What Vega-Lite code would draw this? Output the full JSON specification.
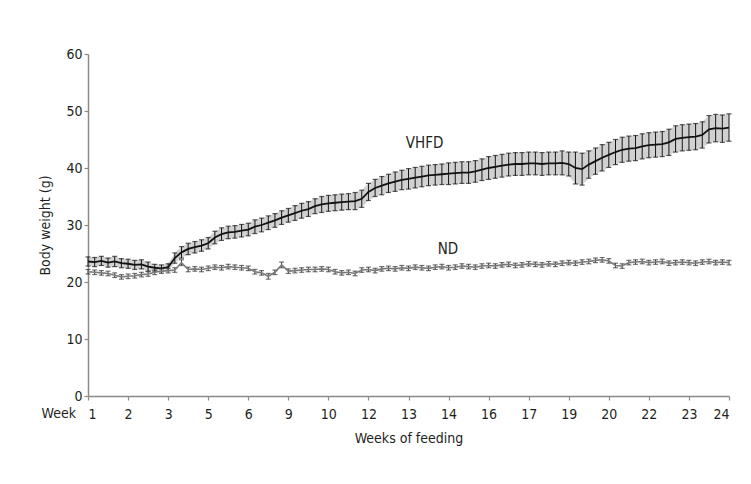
{
  "$schema": "https://vega.github.io/schema/vega-lite/v6.json",
  "width": 641,
  "height": 342,
  "autosize": "none",
  "padding": {"left": 88, "top": 54, "right": 22, "bottom": 88},
  "background": "white",
  "config": {
    "view": {"stroke": null},
    "font": "DejaVu Sans Condensed",
    "axis": {
      "grid": false,
      "domainColor": "#8a8a8a",
      "domainWidth": 1.5,
      "tickColor": "#8a8a8a",
      "tickWidth": 1.2,
      "tickSize": 4,
      "labelFont": "DejaVu Sans Condensed",
      "labelFontSize": 14,
      "labelColor": "#231f20",
      "titleFont": "DejaVu Sans Condensed",
      "titleFontSize": 14,
      "titleFontWeight": "normal",
      "titleColor": "#231f20"
    }
  },
  "data": {
    "values": [
      {"i":0,"v":23.6,"ve":0.8,"n":21.8,"ne":0.4},
      {"i":1,"v":23.5,"ve":0.8,"n":21.7,"ne":0.4},
      {"i":2,"v":23.7,"ve":0.8,"n":21.6,"ne":0.4},
      {"i":3,"v":23.4,"ve":0.8,"n":21.5,"ne":0.4},
      {"i":4,"v":23.6,"ve":0.9,"n":21.2,"ne":0.4},
      {"i":5,"v":23.3,"ve":0.8,"n":20.9,"ne":0.4},
      {"i":6,"v":23.2,"ve":0.8,"n":21.0,"ne":0.4},
      {"i":7,"v":23.0,"ve":0.8,"n":21.1,"ne":0.4},
      {"i":8,"v":23.1,"ve":0.8,"n":21.3,"ne":0.4},
      {"i":9,"v":22.7,"ve":0.8,"n":21.4,"ne":0.4},
      {"i":10,"v":22.5,"ve":0.6,"n":21.7,"ne":0.4},
      {"i":11,"v":22.4,"ve":0.6,"n":21.9,"ne":0.4},
      {"i":12,"v":22.6,"ve":0.6,"n":22.0,"ne":0.4},
      {"i":13,"v":24.2,"ve":0.9,"n":22.1,"ne":0.4},
      {"i":14,"v":25.2,"ve":1.0,"n":23.4,"ne":0.5},
      {"i":15,"v":25.8,"ve":1.0,"n":22.2,"ne":0.4},
      {"i":16,"v":26.1,"ve":1.0,"n":22.3,"ne":0.4},
      {"i":17,"v":26.4,"ve":1.0,"n":22.2,"ne":0.4},
      {"i":18,"v":26.8,"ve":1.0,"n":22.4,"ne":0.4},
      {"i":19,"v":27.8,"ve":1.1,"n":22.6,"ne":0.4},
      {"i":20,"v":28.4,"ve":1.1,"n":22.5,"ne":0.4},
      {"i":21,"v":28.7,"ve":1.1,"n":22.7,"ne":0.4},
      {"i":22,"v":28.8,"ve":1.1,"n":22.6,"ne":0.4},
      {"i":23,"v":29.0,"ve":1.1,"n":22.5,"ne":0.4},
      {"i":24,"v":29.2,"ve":1.1,"n":22.4,"ne":0.4},
      {"i":25,"v":29.7,"ve":1.2,"n":21.8,"ne":0.4},
      {"i":26,"v":30.0,"ve":1.2,"n":21.6,"ne":0.4},
      {"i":27,"v":30.4,"ve":1.2,"n":21.0,"ne":0.5},
      {"i":28,"v":30.8,"ve":1.2,"n":21.7,"ne":0.4},
      {"i":29,"v":31.3,"ve":1.2,"n":23.0,"ne":0.5},
      {"i":30,"v":31.7,"ve":1.2,"n":21.9,"ne":0.4},
      {"i":31,"v":32.1,"ve":1.3,"n":22.0,"ne":0.4},
      {"i":32,"v":32.5,"ve":1.3,"n":22.1,"ne":0.4},
      {"i":33,"v":32.8,"ve":1.3,"n":22.2,"ne":0.4},
      {"i":34,"v":33.3,"ve":1.3,"n":22.2,"ne":0.4},
      {"i":35,"v":33.6,"ve":1.4,"n":22.3,"ne":0.4},
      {"i":36,"v":33.8,"ve":1.4,"n":22.2,"ne":0.4},
      {"i":37,"v":33.9,"ve":1.4,"n":21.8,"ne":0.4},
      {"i":38,"v":34.0,"ve":1.4,"n":21.6,"ne":0.4},
      {"i":39,"v":34.1,"ve":1.4,"n":21.7,"ne":0.4},
      {"i":40,"v":34.2,"ve":1.5,"n":21.5,"ne":0.4},
      {"i":41,"v":34.6,"ve":1.5,"n":22.1,"ne":0.4},
      {"i":42,"v":35.8,"ve":1.5,"n":22.2,"ne":0.4},
      {"i":43,"v":36.5,"ve":1.5,"n":22.0,"ne":0.4},
      {"i":44,"v":36.9,"ve":1.6,"n":22.3,"ne":0.4},
      {"i":45,"v":37.3,"ve":1.6,"n":22.4,"ne":0.4},
      {"i":46,"v":37.6,"ve":1.7,"n":22.3,"ne":0.4},
      {"i":47,"v":37.9,"ve":1.7,"n":22.5,"ne":0.4},
      {"i":48,"v":38.1,"ve":1.8,"n":22.4,"ne":0.4},
      {"i":49,"v":38.3,"ve":1.8,"n":22.6,"ne":0.4},
      {"i":50,"v":38.5,"ve":1.8,"n":22.5,"ne":0.4},
      {"i":51,"v":38.7,"ve":1.8,"n":22.4,"ne":0.4},
      {"i":52,"v":38.8,"ve":1.8,"n":22.6,"ne":0.4},
      {"i":53,"v":38.9,"ve":1.8,"n":22.7,"ne":0.4},
      {"i":54,"v":39.0,"ve":1.9,"n":22.5,"ne":0.4},
      {"i":55,"v":39.1,"ve":1.9,"n":22.6,"ne":0.4},
      {"i":56,"v":39.2,"ve":1.9,"n":22.8,"ne":0.4},
      {"i":57,"v":39.2,"ve":1.9,"n":22.7,"ne":0.4},
      {"i":58,"v":39.4,"ve":1.9,"n":22.6,"ne":0.4},
      {"i":59,"v":39.7,"ve":1.9,"n":22.8,"ne":0.4},
      {"i":60,"v":40.0,"ve":2.0,"n":22.9,"ne":0.4},
      {"i":61,"v":40.2,"ve":2.0,"n":22.8,"ne":0.4},
      {"i":62,"v":40.4,"ve":2.0,"n":23.0,"ne":0.4},
      {"i":63,"v":40.6,"ve":2.0,"n":23.1,"ne":0.4},
      {"i":64,"v":40.7,"ve":2.0,"n":22.9,"ne":0.4},
      {"i":65,"v":40.7,"ve":2.0,"n":23.0,"ne":0.4},
      {"i":66,"v":40.8,"ve":2.0,"n":23.2,"ne":0.4},
      {"i":67,"v":40.8,"ve":2.0,"n":23.1,"ne":0.4},
      {"i":68,"v":40.7,"ve":2.0,"n":23.0,"ne":0.4},
      {"i":69,"v":40.8,"ve":2.0,"n":23.2,"ne":0.4},
      {"i":70,"v":40.8,"ve":2.0,"n":23.1,"ne":0.4},
      {"i":71,"v":40.9,"ve":2.1,"n":23.3,"ne":0.4},
      {"i":72,"v":40.7,"ve":2.1,"n":23.4,"ne":0.4},
      {"i":73,"v":40.0,"ve":2.8,"n":23.3,"ne":0.4},
      {"i":74,"v":39.8,"ve":2.8,"n":23.5,"ne":0.4},
      {"i":75,"v":40.6,"ve":2.4,"n":23.6,"ne":0.4},
      {"i":76,"v":41.2,"ve":2.3,"n":23.8,"ne":0.4},
      {"i":77,"v":41.8,"ve":2.3,"n":23.9,"ne":0.4},
      {"i":78,"v":42.3,"ve":2.2,"n":23.7,"ne":0.4},
      {"i":79,"v":42.8,"ve":2.2,"n":22.9,"ne":0.4},
      {"i":80,"v":43.2,"ve":2.2,"n":22.8,"ne":0.4},
      {"i":81,"v":43.4,"ve":2.2,"n":23.4,"ne":0.4},
      {"i":82,"v":43.5,"ve":2.2,"n":23.5,"ne":0.4},
      {"i":83,"v":43.8,"ve":2.2,"n":23.6,"ne":0.4},
      {"i":84,"v":44.0,"ve":2.2,"n":23.4,"ne":0.4},
      {"i":85,"v":44.1,"ve":2.2,"n":23.5,"ne":0.4},
      {"i":86,"v":44.2,"ve":2.2,"n":23.6,"ne":0.4},
      {"i":87,"v":44.5,"ve":2.3,"n":23.3,"ne":0.4},
      {"i":88,"v":45.1,"ve":2.3,"n":23.4,"ne":0.4},
      {"i":89,"v":45.3,"ve":2.3,"n":23.5,"ne":0.4},
      {"i":90,"v":45.4,"ve":2.3,"n":23.4,"ne":0.4},
      {"i":91,"v":45.5,"ve":2.3,"n":23.3,"ne":0.4},
      {"i":92,"v":45.8,"ve":2.3,"n":23.5,"ne":0.4},
      {"i":93,"v":46.8,"ve":2.4,"n":23.6,"ne":0.4},
      {"i":94,"v":47.0,"ve":2.4,"n":23.4,"ne":0.4},
      {"i":95,"v":46.9,"ve":2.4,"n":23.5,"ne":0.4},
      {"i":96,"v":47.1,"ve":2.4,"n":23.4,"ne":0.4}
    ]
  },
  "encoding": {
    "x": {
      "field": "i",
      "type": "quantitative",
      "title": "Weeks of feeding",
      "scale": {"domain": [0, 96], "nice": false, "zero": false},
      "axis": {
        "values": [0, 6, 12, 18, 24, 30, 36, 42, 48, 54, 60, 66, 72, 78, 84, 90, 96],
        "labelExpr": "['1','2','3','5','6','9','10','12','13','14','16','17','19','20','22','23','24'][round(datum.value/6)]",
        "labelPadding": 7,
        "titlePadding": 10
      }
    }
  },
  "layer": [
    {
      "mark": {"type": "errorband", "color": "#9a9a9a", "opacity": 0.45},
      "encoding": {
        "y": {
          "field": "v",
          "type": "quantitative",
          "title": "Body weight (g)",
          "scale": {"domain": [0, 60], "nice": false},
          "axis": {
            "values": [0, 10, 20, 30, 40, 50, 60],
            "labelPadding": 2,
            "titlePadding": 13
          }
        },
        "yError": {"field": "ve"}
      }
    },
    {
      "mark": {"type": "errorbar", "color": "#151515", "thickness": 1, "ticks": {"size": 5, "color": "#151515", "thickness": 1.2}},
      "encoding": {
        "y": {"field": "v", "type": "quantitative", "title": "Body weight (g)"},
        "yError": {"field": "ve"}
      }
    },
    {
      "mark": {"type": "line", "color": "#111111", "strokeWidth": 1.8},
      "encoding": {"y": {"field": "v", "type": "quantitative", "title": "Body weight (g)"}}
    },
    {
      "mark": {"type": "errorbar", "color": "#3a3a3a", "thickness": 1, "ticks": {"size": 5, "color": "#3a3a3a", "thickness": 1.2}},
      "encoding": {
        "y": {"field": "n", "type": "quantitative", "title": "Body weight (g)"},
        "yError": {"field": "ne"}
      }
    },
    {
      "mark": {"type": "line", "color": "#7a7a7a", "strokeWidth": 1.6},
      "encoding": {"y": {"field": "n", "type": "quantitative", "title": "Body weight (g)"}}
    },
    {
      "data": {"values": [{"lab": "VHFD", "li": 50.4, "lw": 44.3}, {"lab": "ND", "li": 53.9, "lw": 25.8}]},
      "mark": {"type": "text", "fontSize": 15, "font": "DejaVu Sans Condensed", "color": "#231f20"},
      "encoding": {
        "x": {"field": "li", "type": "quantitative"},
        "y": {"field": "lw", "type": "quantitative", "title": "Body weight (g)"},
        "text": {"field": "lab"}
      }
    },
    {
      "data": {"values": [{"lab": "Week", "li": 0, "lw": 0}]},
      "mark": {"type": "text", "fontSize": 14, "font": "DejaVu Sans Condensed", "color": "#231f20", "align": "right", "baseline": "top", "dx": -12, "dy": 11},
      "encoding": {
        "x": {"field": "li", "type": "quantitative"},
        "y": {"field": "lw", "type": "quantitative", "title": "Body weight (g)"},
        "text": {"field": "lab"}
      }
    }
  ]
}
